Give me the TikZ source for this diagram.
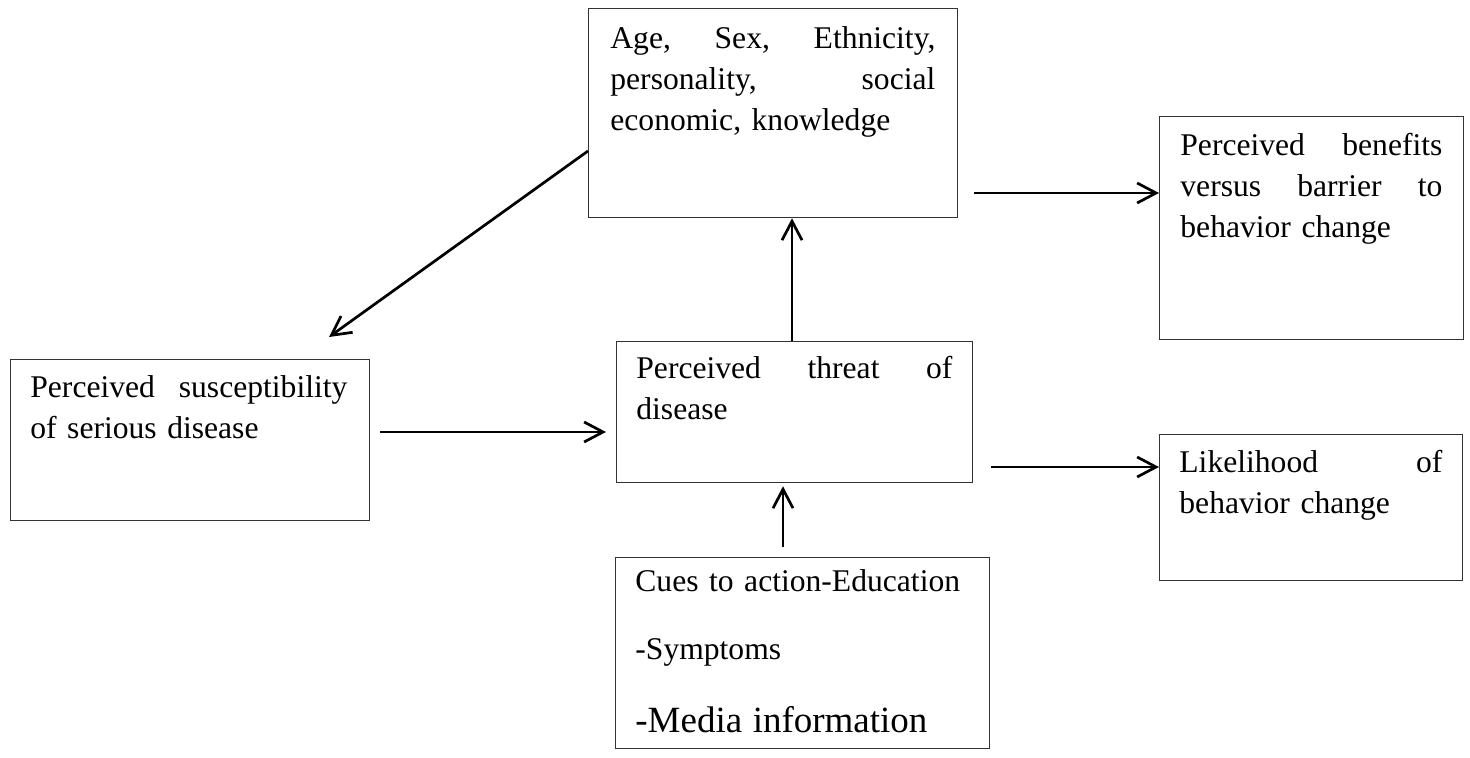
\documentclass[tikz,border=0pt]{standalone}
\usepackage{fontspec}
\setmainfont{Liberation Serif}
\usetikzlibrary{arrows.meta}
\begin{document}
\begin{tikzpicture}[x=0.5pt,y=-0.5pt,
  box/.style={draw=black!80, line width=0.65pt, inner sep=0pt, anchor=north west},
  txt/.style={anchor=base west, inner sep=0pt, text width=#1, font=\fontsize{15.8}{20.5}\selectfont},
  arr/.style={draw=black, line width=1.35pt, -{Straight Barb[length=9.5pt,width=10pt,line width=1.35pt]}}
]
\useasboundingbox (0,0) rectangle (1470,758);
% boxes
\node[box, minimum width=184.5pt, minimum height=104.5pt] (A) at (588,8) {};
\node[box, minimum width=152pt, minimum height=111.5pt] (B) at (1159,116) {};
\node[box, minimum width=179.5pt, minimum height=80.5pt] (C) at (10,359) {};
\node[box, minimum width=178pt, minimum height=70.5pt] (D) at (616,341) {};
\node[box, minimum width=151.5pt, minimum height=73pt] (E) at (1159,434) {};
\node[box, minimum width=187pt, minimum height=95.5pt] (F) at (615,557) {};
% texts
\node[txt=162.5pt] (tA) at (610,49) {Age,\hfill Sex,\hfill Ethnicity,\\ personality,\hfill social\\ economic, knowledge};
\node[txt=131pt] (tB) at (1180,156) {Perceived\hfill benefits\\ versus\hfill barrier\hfill to\\ behavior change};
\node[txt=158.5pt] (tC) at (30,398) {Perceived\hfill susceptibility\\ of serious disease};
\node[txt=158pt] (tD) at (636,379) {Perceived\hfill threat\hfill of\\ disease};
\node[txt=131.5pt] (tE) at (1179,473) {Likelihood\hfill of\\ behavior change};
\node[txt=170pt] (tF) at (635,591) {Cues to action-Education\par\vspace{13.5pt}-Symptoms\par\vspace{14.5pt}{\fontsize{18.5}{22}\selectfont -Media information\par}};
% connectors
\coordinate (sus) at (329,337);
\draw[arr] (A.west |- 0,151) -- (sus);
\draw[arr, shorten <=5pt, shorten >=5pt] (C.east |- 0,432) -- (D.west |- 0,432);
\draw[arr] (D.north -| 792,0) -- (A.south -| 792,0);
\draw[arr, shorten <=8pt] (A.east |- 0,193) -- (B.west |- 0,193);
\draw[arr, shorten <=9pt] (D.east |- 0,467) -- (E.west |- 0,467);
\draw[arr, shorten <=5pt, shorten >=1.5pt] (F.north -| 783,0) -- (D.south -| 783,0);
\end{tikzpicture}
\end{document}
